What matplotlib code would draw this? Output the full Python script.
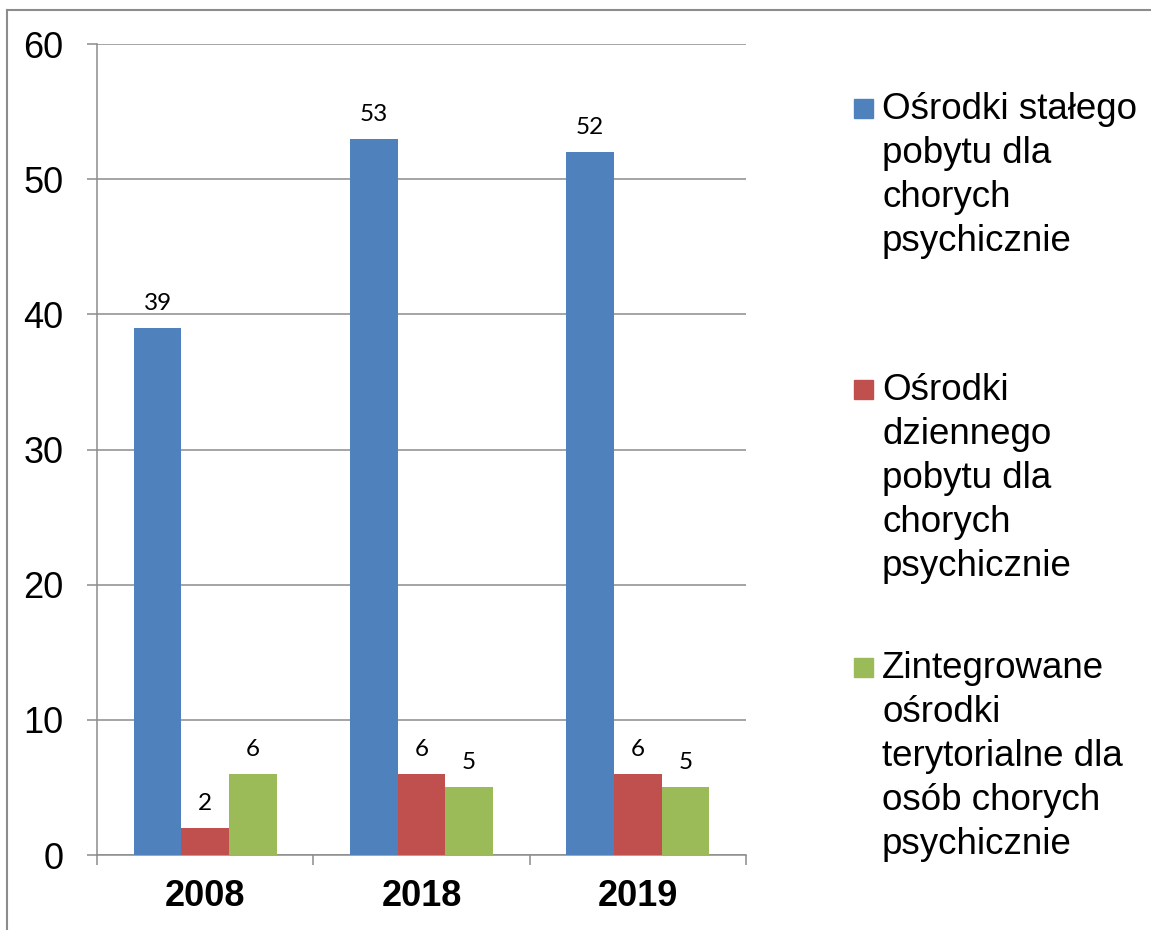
"""
liczba osrodkow wsparcia dla osob chorych psychicznie
"""
import matplotlib
matplotlib.use('Agg')
import matplotlib.pyplot as plt
from matplotlib.lines import Line2D
from matplotlib.patches import Rectangle
import numpy as np

##dane
years = ['2008', '2018', '2019']
series_names = ['Ośrodki stałego\npobytu dla\nchorych\npsychicznie',
                'Ośrodki\ndziennego\npobytu dla\nchorych\npsychicznie',
                'Zintegrowane\nośrodki\nterytorialne dla\nosób chorych\npsychicznie']
stalego = [39, 53, 52]
dziennego = [2, 6, 6]
zintegrowane = [6, 5, 5]
colors = ['#4F81BD', '#C0504D', '#9BBB59']
yticks = [0, 10, 20, 30, 40, 50, 60]

W, H = 1151, 930
grey = '#8C8C8C'

fig = plt.figure(figsize=(W / 100, H / 100), dpi=100)
ax = fig.add_axes([97 / W, 1 - 855 / H, (746 - 97) / W, (855 - 44) / H])

x = np.arange(len(years))
width = 0.22
for k, (vals, col) in enumerate(zip([stalego, dziennego, zintegrowane], colors)):
    pos = x + (k - 1) * width
    ax.bar(pos, vals, width, color=col, zorder=3)
    for xp, v in zip(pos, vals):
        ax.annotate(str(v), (xp, v), xytext=(0, 13), textcoords='offset points',
                    ha='center', va='baseline', fontsize=17.5, family='Lato')

ax.set_xlim(-0.5, len(years) - 0.5)
ax.set_ylim(0, 60)
ax.set_yticks(yticks)
ax.yaxis.grid(True, color=grey, linewidth=1.1, zorder=0)
ax.set_axisbelow(True)

for s in ['top', 'right']:
    ax.spines[s].set_visible(False)
for s in ['left', 'bottom']:
    ax.spines[s].set_color(grey)
    ax.spines[s].set_linewidth(1.1)

ax.tick_params(axis='y', length=7, width=1.1, color=grey, pad=17,
               labelsize=26)
for lab in ax.get_yticklabels():
    lab.set_family('Liberation Sans')

ax.set_xticks(x)
ax.set_xticklabels(years, fontsize=26, fontweight='bold', family='Liberation Sans')
ax.set_xticks(np.arange(-0.5, len(years)), minor=True)
ax.tick_params(axis='x', which='major', length=0, pad=17)
ax.tick_params(axis='x', which='minor', length=7, width=1.1, color=grey)

##legenda (reczne rozmieszczenie)
line_h = 44
first_base = [119, 400, 678]
for name, col, yb in zip(series_names, colors, first_base):
    fig.patches.append(Rectangle((854 / W, 1 - (yb - 1) / H), 19 / W, 19 / H,
                                 transform=fig.transFigure, color=col))
    for i, line in enumerate(name.split('\n')):
        fig.text(882 / W, 1 - (yb + i * line_h) / H, line, fontsize=26.5,
                 family='Liberation Sans', va='baseline', ha='left')

##ramka wykresu
fig.add_artist(Line2D([7 / W, 1], [1 - 10 / H, 1 - 10 / H], color=grey,
                      linewidth=1.5, transform=fig.transFigure))
fig.add_artist(Line2D([7 / W, 7 / W], [0, 1 - 10 / H], color=grey,
                      linewidth=1.5, transform=fig.transFigure))

fig.savefig('out.png', dpi=100)
